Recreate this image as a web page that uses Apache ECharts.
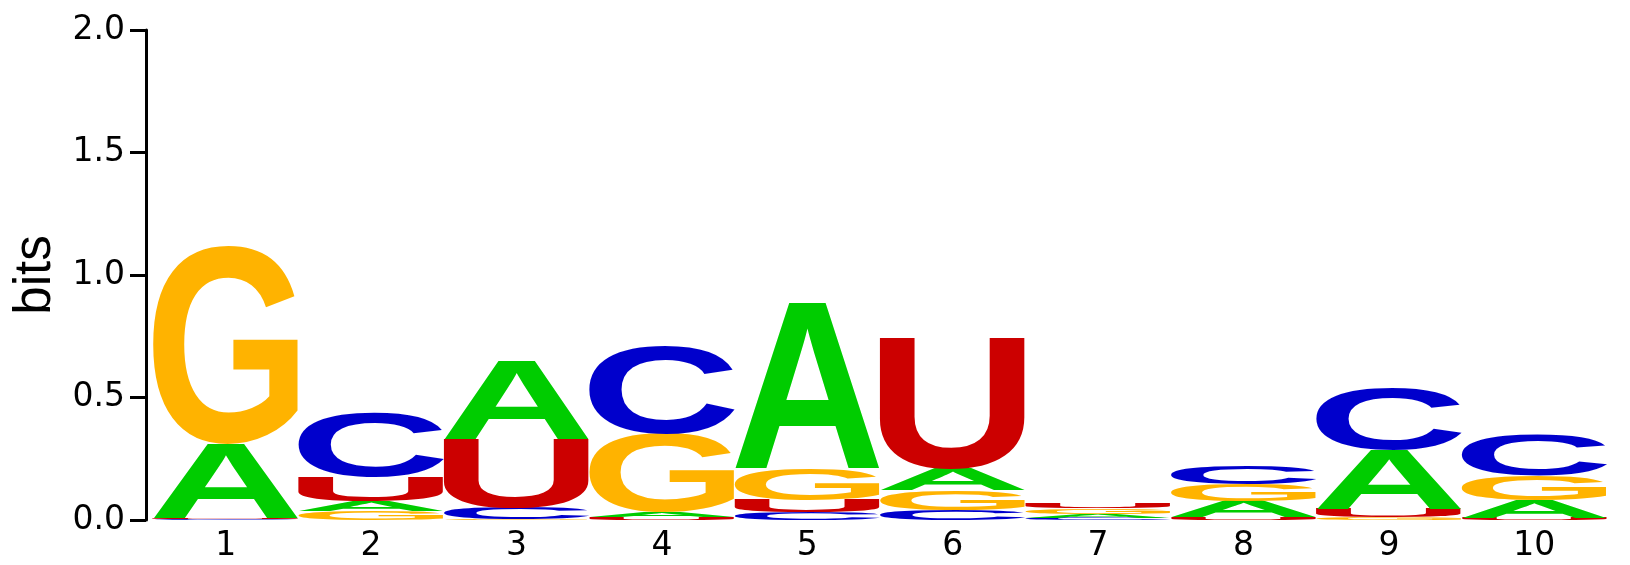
<!DOCTYPE html>
<html>
<head>
<meta charset="utf-8">
<script src="https://cdn.jsdelivr.net/npm/echarts@6/dist/echarts.min.js"></script>
<style>
  html, body { margin: 0; padding: 0; background: #fff; }
  #logo { width: 1630px; height: 565px; }
</style>
</head>
<body>
<div id="logo"></div>
<script>
// positions along the motif
var positions = ['1', '2', '3', '4', '5', '6', '7', '8', '9', '10'];

// information (bits) carried by each base at each position
var bitsA = [0.303, 0.040, 0.320, 0.020, 0.680, 0.090, 0.015, 0.066, 0.240, 0.072];
var bitsC = [0.003, 0.265, 0.045, 0.360, 0.030, 0.040, 0.010, 0.075, 0.250, 0.167];
var bitsG = [0.810, 0.035, 0.004, 0.320, 0.128, 0.080, 0.022, 0.070, 0.010, 0.100];
var bitsU = [0.004, 0.100, 0.280, 0.012, 0.050, 0.535, 0.023, 0.010, 0.035, 0.008];

var yTicks = [0, 0.5, 1.0, 1.5, 2.0];

var baseColors = {A: '#00cc00', C: '#0000cc', G: '#ffb300', U: '#cc0000'};
var letterFont = 'bold 200px "Liberation Sans"';

// ink box of every glyph, measured with the same baseline zrender uses
var glyphBox = {};
(function () {
  var ctx = document.createElement('canvas').getContext('2d');
  ctx.font = letterFont;
  ctx.textAlign = 'left';
  ctx.textBaseline = 'middle';
  ['A', 'C', 'G', 'U'].forEach(function (ch) {
    var m = ctx.measureText(ch);
    glyphBox[ch] = {
      left: m.actualBoundingBoxLeft,
      right: m.actualBoundingBoxRight,
      asc: m.actualBoundingBoxAscent,
      desc: m.actualBoundingBoxDescent
    };
  });
})();

// stack each column, smallest letter at the bottom
var stacks = [];
positions.forEach(function (p, i) {
  var col = [
    {ch: 'A', v: bitsA[i]},
    {ch: 'C', v: bitsC[i]},
    {ch: 'G', v: bitsG[i]},
    {ch: 'U', v: bitsU[i]}
  ];
  col.sort(function (a, b) { return a.v - b.v; });
  var base = 0;
  col.forEach(function (c) {
    stacks.push([i, base, base + c.v, c.ch]);
    base += c.v;
  });
});

var chart = echarts.init(document.getElementById('logo'));

function renderLetter(params, api) {
  var idx = api.value(0);
  var ch = stacks[params.dataIndex][3];
  var lo = api.coord([idx, api.value(1)]);
  var hi = api.coord([idx, api.value(2)]);
  var w = api.size([1, 0])[0];
  var x0 = lo[0] - w / 2;
  var yTop = hi[1];
  var h = lo[1] - hi[1];
  if (h <= 0.2) return;
  var g = glyphBox[ch];
  var sx = w / (g.left + g.right);
  var sy = h / (g.asc + g.desc);
  return {
    type: 'text',
    x: x0 + sx * g.left,
    y: yTop + sy * g.asc,
    scaleX: sx,
    scaleY: sy,
    silent: true,
    style: {
      text: ch,
      font: letterFont,
      fill: baseColors[ch],
      align: 'left',
      verticalAlign: 'middle',
      textAlign: 'left',
      textVerticalAlign: 'middle'
    }
  };
}

var option = {
  animation: false,
  backgroundColor: '#fff',
  grid: {
    left: 153,
    right: 23,
    top: 30,
    bottom: 45
  },
  xAxis: {
    type: 'category',
    data: positions,
    boundaryGap: true,
    axisLine: { show: false },
    axisTick: { show: false },
    axisLabel: {
      color: '#000',
      fontFamily: 'DejaVu Sans',
      fontSize: 33,
      margin: 10
    },
    splitLine: { show: false }
  },
  yAxis: {
    type: 'value',
    min: yTicks[0],
    max: yTicks[yTicks.length - 1],
    interval: 0.5,
    offset: 7,
    name: 'bits',
    nameLocation: 'middle',
    nameGap: 82,
    nameTextStyle: {
      color: '#000',
      fontFamily: 'Liberation Sans',
      fontSize: 51
    },
    axisLine: {
      show: true,
      lineStyle: { color: '#000', width: 3 }
    },
    axisTick: {
      show: true,
      length: 16,
      lineStyle: { color: '#000', width: 3 }
    },
    axisLabel: {
      color: '#000',
      fontFamily: 'DejaVu Sans',
      fontSize: 33,
      margin: 21,
      formatter: function (v) { return v.toFixed(1); }
    },
    splitLine: { show: false }
  },
  series: [{
    type: 'custom',
    renderItem: renderLetter,
    encode: { x: 0, y: [1, 2] },
    data: stacks.map(function (s) { return [s[0], s[1], s[2]]; })
  }]
};
chart.setOption(option);
</script>
</body>
</html>
